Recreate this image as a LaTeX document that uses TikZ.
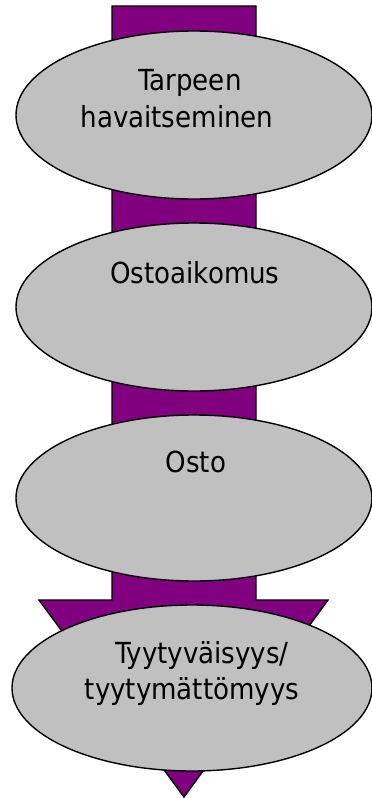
\documentclass[tikz,border=0pt]{standalone}
\usepackage{fontspec}
\setmainfont{DejaVu Sans Condensed}
\usetikzlibrary{shapes.geometric}
\definecolor{arrowpurple}{HTML}{800080}
\definecolor{ellgray}{HTML}{C0C0C0}
\tikzset{
  stage/.style={ellipse, draw=black, line width=1.4pt, fill=ellgray, inner sep=0pt, minimum width=356pt, minimum height=168pt},
  lbl/.style={anchor=base, inner sep=0pt, font=\fontsize{29}{38}\selectfont, text=black}
}
\begin{document}
\begin{tikzpicture}[x=1pt,y=-1pt]
\useasboundingbox (0,0) rectangle (372,798);
\draw[line width=1.4pt, fill=arrowpurple] (112,6) -- (256,6) -- (256,600) -- (328,600) -- (184,797) -- (39,600) -- (112,600) -- cycle;
\node[stage] (e1) at (194,115) {};
\node[stage] (e2) at (194,307) {};
\node[stage, minimum height=166pt] (e3) at (194,498) {};
\node[stage, minimum width=360pt, minimum height=166pt] (e4) at (192,688) {};
\node[lbl] (t1a) at (190,90) {Tarpeen};
\node[lbl] (t1b) at (177,127) {havaitseminen};
\node[lbl] (t2) at (195,283) {Ostoaikomus};
\node[lbl] (t3) at (196,472) {Osto};
\node[lbl] (t4a) at (202,663) {Tyytyväisyys/};
\node[lbl] (t4b) at (192,699) {tyytymättömyys};
\end{tikzpicture}
\end{document}
